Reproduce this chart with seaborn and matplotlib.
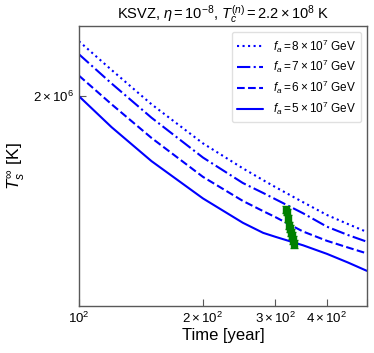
import numpy as np
import pandas as pd
import matplotlib
matplotlib.use("Agg")
import matplotlib.pyplot as plt
from matplotlib.ticker import NullLocator
import seaborn as sns

## data
time_yr = [100, 120, 150, 200, 250, 280, 300, 350, 400, 450, 500]

# surface temperature T_s^inf [K] for each f_a
ts_fa8 = [2.155e6, 2.072e6, 1.977e6, 1.874e6, 1.811e6, 1.782e6, 1.765e6, 1.729e6, 1.699e6, 1.678e6, 1.660e6]
ts_fa7 = [2.117e6, 2.034e6, 1.941e6, 1.838e6, 1.775e6, 1.751e6, 1.736e6, 1.703e6, 1.672e6, 1.653e6, 1.638e6]
ts_fa6 = [2.056e6, 1.977e6, 1.888e6, 1.790e6, 1.732e6, 1.708e6, 1.694e6, 1.661e6, 1.640e6, 1.625e6, 1.612e6]
ts_fa5 = [1.999e6, 1.916e6, 1.829e6, 1.738e6, 1.681e6, 1.658e6, 1.649e6, 1.630e6, 1.611e6, 1.592e6, 1.574e6]

labels = [r"$f_a = 8\times10^7$ GeV", r"$f_a = 7\times10^7$ GeV",
          r"$f_a = 6\times10^7$ GeV", r"$f_a = 5\times10^7$ GeV"]
styles = [":", "-.", "--", "-"]

# Cas A observations
casa_age = [317.6, 319.3, 321.2, 323.0, 324.8, 326.6, 328.5, 330.3, 332.2]
casa_ts = [1.711e6, 1.706e6, 1.690e6, 1.674e6, 1.667e6, 1.658e6, 1.651e6, 1.642e6, 1.633e6]
casa_err = [0.008e6] * len(casa_ts)

sns.set_theme(style="ticks")
plt.rcParams["font.family"] = ["Liberation Sans", "DejaVu Sans"]
plt.rcParams["mathtext.fontset"] = "custom"
plt.rcParams["mathtext.rm"] = "Liberation Sans"
plt.rcParams["mathtext.it"] = "Liberation Sans:italic"
plt.rcParams["mathtext.bf"] = "Liberation Sans:bold"
plt.rcParams["text.color"] = "black"
plt.rcParams["axes.labelcolor"] = "black"
plt.rcParams["xtick.labelcolor"] = "black"
plt.rcParams["ytick.labelcolor"] = "black"

fig = plt.figure(figsize=(3.74, 3.53), dpi=100)
ax = fig.add_axes([0.211, 0.133, 0.77, 0.793])

df = pd.DataFrame({"time": time_yr * 4,
                   "ts": ts_fa8 + ts_fa7 + ts_fa6 + ts_fa5,
                   "model": [l for l in labels for _ in time_yr]})

for lab, ls in zip(labels, styles):
    sub = df[df.model == lab]
    sns.lineplot(x="time", y="ts", data=sub, ax=ax, color="#0000ff",
                 linestyle=ls, linewidth=1.5, label=lab, sort=False)

ax.errorbar(casa_age, casa_ts, yerr=casa_err, fmt="s", color="green",
            ms=4.5, capsize=3, elinewidth=1, zorder=5)

ax.set_xscale("log")
ax.set_yscale("log")
ax.set_xlim(100, 500)
ax.set_ylim(1.5e6, 2.2e6)
ax.set_yticks([2e6], [r"$2\times10^6$"])
ax.yaxis.set_minor_locator(NullLocator())

ax.set_title(r"KSVZ, $\eta = 10^{-8}$, $T_c^{(n)} = 2.2\times10^8$ K", fontsize=10.5, pad=5)
ax.set_xlabel("Time [year]", fontsize=12, labelpad=1)
ax.set_ylabel(r"$T_s^\infty$ [K]", fontsize=12.5, labelpad=4)

ax.tick_params(which="both", direction="in", labelsize=9.5, length=5, width=0.8,
               color="0.35", labelcolor="black")
for s in ax.spines.values():
    s.set_color("0.35")
    s.set_linewidth(1)

leg = ax.legend(loc="upper right", fontsize=8.5, frameon=True, fancybox=True,
                edgecolor="0.85", borderpad=0.45, labelspacing=0.3, handlelength=2.2)
for t in leg.get_texts():
    t.set_color("black")

fig.savefig("out.png", dpi=100)
